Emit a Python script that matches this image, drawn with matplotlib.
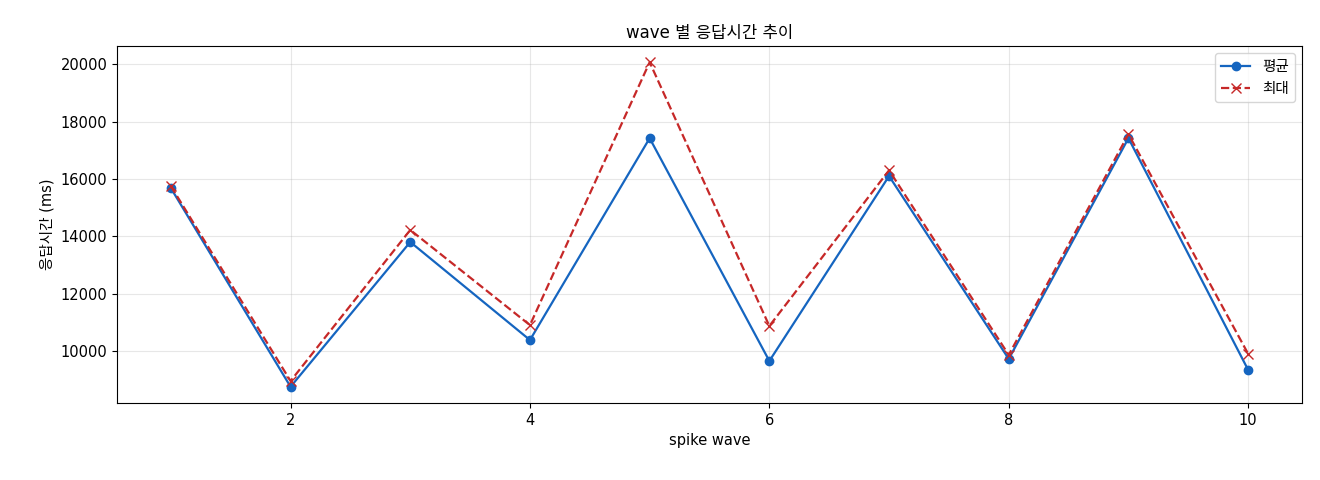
import matplotlib
matplotlib.use("Agg")
import matplotlib.pyplot as plt

plt.rcParams['font.family'] = ['DejaVu Sans', 'Noto Sans CJK KR']

waves = [1, 2, 3, 4, 5, 6, 7, 8, 9, 10]
mean_ms = [15680, 8750, 13800, 10380, 17420, 9650, 16100, 9720, 17420, 9340]
max_ms = [15750, 8950, 14220, 10900, 20070, 10870, 16300, 9860, 17560, 9900]

fig = plt.figure(figsize=(13.2, 4.8), dpi=100)
ax = fig.add_axes([117/1320, 1-403/480, (1302-117)/1320, (403-46)/480])
ax.plot(waves, mean_ms, '-o', color='#1565C0', label='평균', markersize=6, linewidth=1.6)
ax.plot(waves, max_ms, '--x', color='#C62828', label='최대', markersize=7, linewidth=1.6)
ax.set_title('wave 별 응답시간 추이', fontsize=12)
ax.set_xlabel('spike wave', fontsize=10.5)
ax.set_ylabel('응답시간 (ms)', fontsize=10.5)
ax.grid(True, alpha=0.3)
ax.tick_params(labelsize=10.5)
ax.legend(fontsize=10.5, loc='upper right')
fig.savefig('out.png', dpi=100)
